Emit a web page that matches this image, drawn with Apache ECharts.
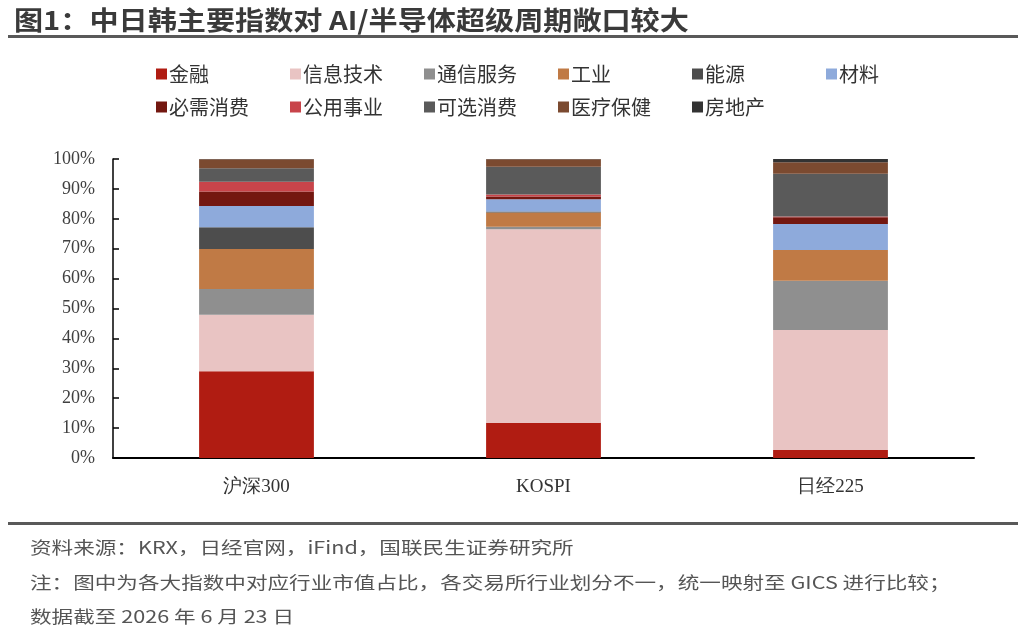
<!DOCTYPE html>
<html>
<head>
<meta charset="utf-8">
<script src="https://cdn.jsdelivr.net/npm/echarts@6/dist/echarts.min.js"></script>
<style>
html, body { margin: 0; padding: 0; background: #fff; }
#chart { width: 1024px; height: 636px; }
</style>
</head>
<body>
<div id="chart"></div>
<script>
var categories = ['沪深300', 'KOSPI', '日经225'];
var sectors = ['金融', '信息技术', '通信服务', '工业', '能源', '材料',
    '必需消费', '公用事业', '可选消费', '医疗保健', '房地产'];
var colors = ['#b01c12', '#e9c4c3', '#8f8f8f', '#c07a45', '#4d4d4d', '#8eaadb',
    '#731710', '#c8444a', '#5a5a5a', '#7b4a30', '#333333'];

// 各行业市值占比 (%)，顺序同 categories
var finance     = [29.0, 11.8, 2.7];
var infoTech    = [18.9, 64.7, 40.1];
var telecom     = [8.6, 0.8, 16.5];
var industrial  = [13.4, 4.8, 10.3];
var energy      = [7.3, 0.3, 0];
var materials   = [7.1, 4.1, 8.7];
var staples     = [4.8, 1.0, 2.2];
var utilities   = [3.3, 0.6, 0.3];
var discretion  = [4.5, 9.3, 14.3];
var healthcare  = [3.0, 2.5, 3.8];
var realEstate  = [0.1, 0.1, 1.1];

var values = [finance, infoTech, telecom, industrial, energy, materials,
    staples, utilities, discretion, healthcare, realEstate];

var yTicks = [0, 10, 20, 30, 40, 50, 60, 70, 80, 90, 100];

var series = [];
for (var i = 0; i < sectors.length; i++) {
    series.push({
        name: sectors[i],
        type: 'bar',
        stack: 'total',
        barWidth: '40%',
        itemStyle: { color: colors[i] },
        data: values[i]
    });
}

// 图例按固定列宽排成两行，每项一个 legend
var legends = [];
for (var i = 0; i < sectors.length; i++) {
    var row = i < 6 ? 0 : 1;
    var col = i < 6 ? i : i - 6;
    legends.push({
        left: 151 + col * 134,
        top: 59 + row * 33,
        icon: 'rect',
        itemWidth: 11,
        itemHeight: 11,
        itemGap: 4,
        textStyle: {
            fontFamily: 'Noto Sans CJK SC',
            fontSize: 20,
            color: '#333',
            padding: [0, 0, 0, -3]
        },
        data: [sectors[i]]
    });
}

function note(text, y) {
    return {
        type: 'text',
        x: 30,
        y: y,
        scaleX: 1.27,
        style: {
            text: text,
            font: '17px "Noto Sans CJK SC"',
            fill: '#555',
            verticalAlign: 'middle'
        }
    };
}

var chart = echarts.init(document.getElementById('chart'));
chart.setOption({
    animation: false,
    textStyle: { fontFamily: 'Noto Sans CJK SC' },
    legend: legends,
    grid: { left: 113, right: 50, top: 159, bottom: 178 },
    xAxis: {
        type: 'category',
        data: categories,
        axisLine: { lineStyle: { color: '#000', width: 2 } },
        axisTick: { show: false },
        axisLabel: {
            margin: 20,
            fontFamily: 'Liberation Serif',
            fontSize: 19,
            color: '#333'
        }
    },
    yAxis: {
        type: 'value',
        min: yTicks[0],
        max: yTicks[yTicks.length - 1],
        interval: 10,
        splitLine: { show: false },
        axisLine: { show: true, lineStyle: { color: '#000', width: 1.5 } },
        axisTick: { show: true, inside: true, length: 6, lineStyle: { color: '#000', width: 1.5 } },
        axisLabel: {
            margin: 18,
            formatter: '{value}%',
            fontFamily: 'Liberation Serif',
            fontSize: 18,
            color: '#404040'
        }
    },
    graphic: [{
        type: 'text',
        x: 14,
        y: 20,
        scaleX: 1.12,
        style: {
            text: '图1：中日韩主要指数对 AI/半导体超级周期敞口较大',
            font: 'bold 26px "Noto Sans CJK SC"',
            fill: '#3a3a3a',
            verticalAlign: 'middle'
        }
    }, {
        type: 'rect',
        shape: { x: 8, y: 35, width: 1010, height: 3 },
        style: { fill: '#595959' }
    }, {
        type: 'rect',
        shape: { x: 8, y: 522, width: 1010, height: 3 },
        style: { fill: '#595959' }
    },
        note('资料来源：KRX，日经官网，iFind，国联民生证券研究所', 548),
        note('注：图中为各大指数中对应行业市值占比，各交易所行业划分不一，统一映射至 GICS 进行比较；', 583),
        note('数据截至 2026 年 6 月 23 日', 617)
    ],
    series: series
});
</script>
</body>
</html>
